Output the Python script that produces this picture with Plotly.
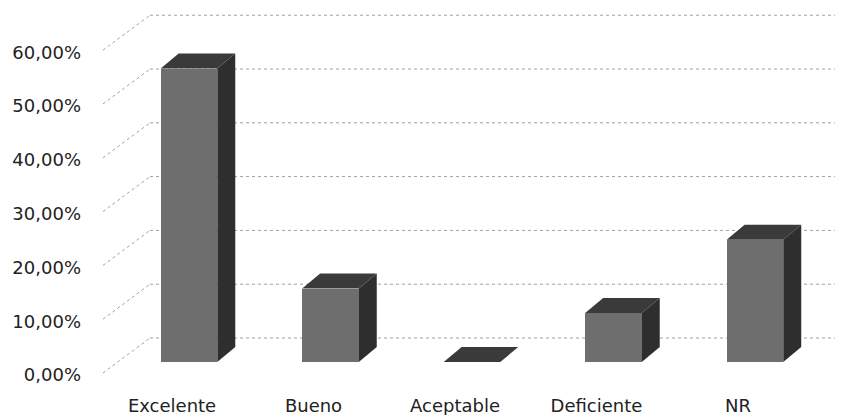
import plotly.graph_objects as go

categories = ["Excelente", "Bueno", "Aceptable", "Deficiente", "NR"]
values = [54.55, 13.64, 0.0, 9.09, 22.73]
tick_values = [0, 10, 20, 30, 40, 50, 60]
tick_labels = ["0,00%", "10,00%", "20,00%", "30,00%", "40,00%", "50,00%", "60,00%"]

# 3D look parameters (axis units)
BAR_W = 0.40
DX, DY = 0.127, 2.79          # bar depth offset
WALL_Y = 4.46                 # back wall vertical offset
SIDE_FX, SIDE_FY = -0.608, -2.04   # side wall front point
SIDE_BX = -0.2756             # back wall left edge
BACK_RX = 4.565               # back wall right edge
LABEL_SHIFT = -2.45           # front-plane offset of value labels
CAT_SHIFT = -0.12

FRONT = "#6e6e6e"
SIDE = "#2e2e2e"
TOP = "#3a3a3a"
GRID = "#a0a0a0"

xs = list(range(len(categories)))
fig = go.Figure()
fig.add_trace(go.Bar(x=xs, y=values, width=BAR_W, marker=dict(color=FRONT, line=dict(width=0)),
                     hoverinfo="skip", showlegend=False))

shapes = []
for t in tick_values:
    shapes.append(dict(type="line", xref="x", yref="y", x0=SIDE_BX, x1=BACK_RX, y0=t + WALL_Y, y1=t + WALL_Y,
                       line=dict(color=GRID, width=1, dash="dot"), layer="below"))
    shapes.append(dict(type="line", xref="x", yref="y", x0=SIDE_FX, x1=SIDE_BX, y0=t + SIDE_FY, y1=t + WALL_Y,
                       line=dict(color=GRID, width=1, dash="dot"), layer="below"))

for x, v in zip(xs, values):
    xl, xr = x - BAR_W / 2, x + BAR_W / 2
    shapes.append(dict(type="path", xref="x", yref="y", layer="below",
                       path=f"M {xr},0 L {xr},{v} L {xr+DX},{v+DY} L {xr+DX},{DY} Z",
                       fillcolor=SIDE, line=dict(width=0)))
    shapes.append(dict(type="path", xref="x", yref="y", layer="below",
                       path=f"M {xl},{v} L {xr},{v} L {xr+DX},{v+DY} L {xl+DX},{v+DY} Z",
                       fillcolor=TOP, line=dict(width=0)))

# page body has an 8px margin, so the figure is sized 8px smaller
fig.update_layout(
    width=839, height=407,
    margin=dict(l=92, r=7, t=0, b=30),
    paper_bgcolor="white", plot_bgcolor="white",
    shapes=shapes,
    font=dict(family="DejaVu Sans", size=18, color="#222222"),
    bargap=0,
    xaxis=dict(range=[-0.629, 4.601], tickvals=[x + CAT_SHIFT for x in xs], ticktext=categories,
               showgrid=False, zeroline=False, showline=False, ticks="", ticklabelstandoff=8,
               automargin=False),
    yaxis=dict(range=[-4.275, 65.8], tickvals=[t + LABEL_SHIFT for t in tick_values], ticktext=tick_labels,
               showgrid=False, zeroline=False, showline=False, ticks="", ticklabelstandoff=18,
               automargin=False),
)

fig.write_html("out.html")
